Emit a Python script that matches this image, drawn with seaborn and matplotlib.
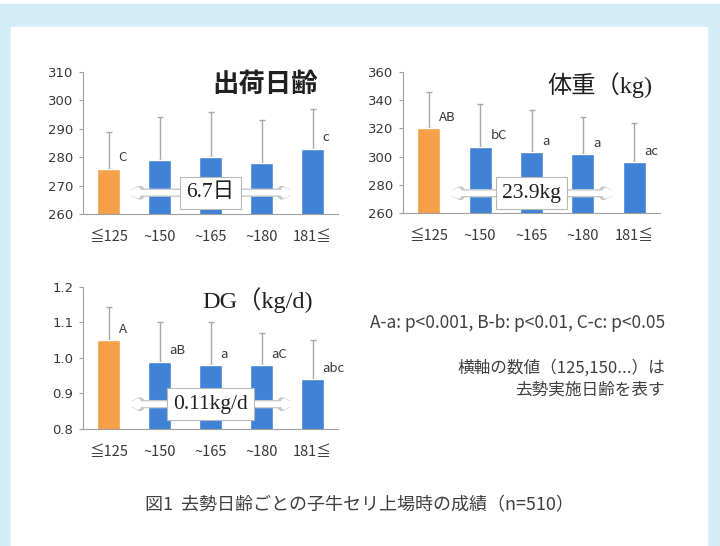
import numpy as np
import pandas as pd
import seaborn as sns
import matplotlib.pyplot as plt
from matplotlib.patches import Rectangle

sns.set_style("white")
plt.rcParams['font.family'] = ['Noto Sans CJK JP', 'DejaVu Sans']

groups = ["≦125", "~150", "~165", "~180", "181≦"]
bar_colors = ["#f5a048", "#4083d6", "#4083d6", "#4083d6", "#4083d6"]

age_mean = [276, 279, 280, 278, 283]
age_sd = [13, 15, 16, 15, 14]
age_marks = ["C", "", "", "", "c"]

wt_mean = [320, 307, 303, 302, 296]
wt_sd = [26, 30, 30, 26, 28]
wt_marks = ["AB", "bC", "a", "a", "ac"]

dg_mean = [1.05, 0.99, 0.98, 0.98, 0.94]
dg_sd = [0.095, 0.11, 0.12, 0.09, 0.11]
dg_marks = ["A", "aB", "a", "aC", "abc"]

blue_bg = "#d4ebf8"
fig = plt.figure(figsize=(7.2, 5.46), dpi=100)
fig.patches.append(Rectangle((0, 0), 1, 1 - 4/546, transform=fig.transFigure,
                             color=blue_bg, zorder=-3))
fig.patches.append(Rectangle((11/720, 0), (707-11)/720, 1 - 27/546,
                             transform=fig.transFigure, color="white", zorder=-2))


def panel(rect, mean, sd, marks, ylim, step, title, diff, arrow_y, fmt,
          title_font, title_w, title_size, title_x):
    ax = fig.add_axes(rect)
    df = pd.DataFrame({"group": groups, "value": mean})
    ax.errorbar(range(5), mean, yerr=[[0]*5, sd], fmt="none", ecolor="#a8a8a8",
                elinewidth=1, capsize=2.5, capthick=1, zorder=1)
    sns.barplot(data=df, x="group", y="value", hue="group", palette=bar_colors,
                width=0.45, legend=False, ax=ax, zorder=2, saturation=1)
    ax.set_ylim(*ylim)
    ax.set_xlim(-0.5, 4.5)
    ax.set_yticks(np.arange(ylim[0], ylim[1] + step/2, step))
    ax.set_yticklabels([fmt.format(v) for v in ax.get_yticks()], fontsize=9.5,
                       color="#383838", family="DejaVu Sans")
    ax.set_xticks(range(5))
    ax.set_xticklabels(groups, fontsize=10.5, color="#383838")
    ax.set_xlabel("")
    ax.set_ylabel("")
    for s in ["top", "right"]:
        ax.spines[s].set_visible(False)
    for s in ["left", "bottom"]:
        ax.spines[s].set_color("#a0a0a0")
    ax.tick_params(axis="y", left=True, length=3, color="#a0a0a0", pad=4)
    ax.tick_params(axis="x", bottom=False, pad=8)
    rng = ylim[1] - ylim[0]
    for i, m in enumerate(marks):
        if m:
            ax.text(i + 0.2, mean[i] + rng*0.03, m, fontsize=9.5, color="#383838",
                    ha="left", va="bottom")
    # hollow double arrow with text box
    ax.annotate("", xy=(0.33, arrow_y), xytext=(3.69, arrow_y),
                arrowprops=dict(arrowstyle="<->", color="#c8c8c8", lw=6,
                                shrinkA=0, shrinkB=0), zorder=3)
    ax.annotate("", xy=(0.35, arrow_y), xytext=(3.67, arrow_y),
                arrowprops=dict(arrowstyle="<->", color="white", lw=4,
                                shrinkA=0, shrinkB=0), zorder=3)
    ax.text(2, arrow_y, diff, ha="center", va="center", fontsize=15.5,
            family=["Liberation Serif", "Noto Sans CJK JP"], color="#202020",
            bbox=dict(boxstyle="square,pad=0.3", fc="white", ec="#b8b8b8", lw=0.8),
            zorder=4)
    ax.text(title_x, 0.91, title, transform=ax.transAxes, ha="right", va="center",
            fontsize=title_size, color="#202020", family=title_font,
            fontweight=title_w)
    return ax


panel([83/720, 1 - 214/546, 255/720, 142/546], age_mean, age_sd, age_marks,
      (260, 310), 10, "出荷日齢", "6.7日", 267.5, "{:.0f}",
      ["Noto Sans CJK JP"], "bold", 19, 0.92)
panel([403/720, 1 - 213/546, 257/720, 141/546], wt_mean, wt_sd, wt_marks,
      (260, 360), 20, "体重（kg)", "23.9kg", 274, "{:.0f}",
      ["Liberation Serif", "Noto Sans CJK JP"], "normal", 17.5, 0.97)
panel([83/720, 1 - 429/546, 255/720, 142/546], dg_mean, dg_sd, dg_marks,
      (0.8, 1.2), 0.1, "DG（kg/d)", "0.11kg/d", 0.87, "{:.1f}",
      ["Liberation Serif", "Noto Sans CJK JP"], "normal", 17.5, 0.90)

fig.text(665/720, 1 - 323/546, "A-a: p<0.001, B-b: p<0.01, C-c: p<0.05",
         ha="right", va="center", fontsize=12.5, color="#404040")
fig.text(665/720, 1 - 368/546, "横軸の数値（125,150...）は", ha="right", va="center",
         fontsize=12, color="#404040")
fig.text(665/720, 1 - 390/546, "去勢実施日齢を表す", ha="right", va="center",
         fontsize=12, color="#404040")
fig.text(359/720, 1 - 505/546, "図1  去勢日齢ごとの子牛セリ上場時の成績（n=510）",
         ha="center", va="center", fontsize=13, color="#404040")

fig.savefig("out.png", dpi=100, facecolor="white")
